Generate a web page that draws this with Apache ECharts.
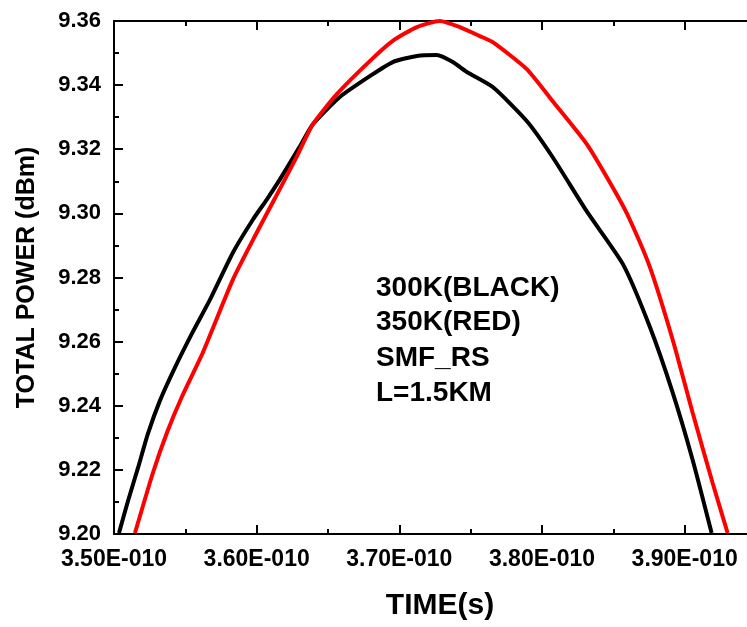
<!DOCTYPE html>
<html>
<head>
<meta charset="utf-8">
<script src="https://cdn.jsdelivr.net/npm/echarts@6/dist/echarts.min.js"></script>
<style>
html,body{margin:0;padding:0;background:#fff;}
#chart{width:747px;height:627px;}
</style>
</head>
<body>
<div id="chart"></div>
<script>
// time in units of 1E-010 s
const time300K = [3.5035,3.5098,3.5168,3.5238,3.5322,3.5427,3.5546,3.5673,3.5834,3.5974,3.6072,3.6163,3.6303,3.6394,3.6583,3.6793,3.6954,3.7123,3.7263,3.7375,3.7473,3.7655,3.7893,3.8075,3.8314,3.8568,3.8755,3.8916,3.9056,3.9189];
const power300K = [9.2003,9.2103,9.2206,9.2313,9.2416,9.2519,9.2625,9.2731,9.2878,9.2981,9.3044,9.3106,9.3209,9.3278,9.3363,9.3428,9.3472,9.3491,9.3494,9.3472,9.3441,9.3394,9.3288,9.3175,9.3006,9.2841,9.2647,9.2441,9.2231,9.2003];
const time350K = [3.5147,3.5273,3.5371,3.5476,3.5623,3.5834,3.6002,3.6128,3.6282,3.6394,3.6562,3.6793,3.6954,3.7123,3.7284,3.7424,3.7564,3.7655,3.7893,3.8075,3.8314,3.8524,3.8615,3.8755,3.8916,3.9056,3.9196,3.9301];
const power350K = [9.2003,9.2191,9.2316,9.2428,9.2566,9.2794,9.2941,9.3047,9.3178,9.3278,9.3372,9.3475,9.3538,9.3581,9.3600,9.3581,9.3553,9.3534,9.3450,9.3350,9.3216,9.3059,9.2981,9.2834,9.2606,9.2378,9.2159,9.2003];
const annotationLines = ['300K(BLACK)','350K(RED)','SMF_RS','L=1.5KM'];
const xTitle = 'TIME(s)';
const yTitle = 'TOTAL POWER (dBm)';

const FONT = '"Liberation Sans", Arial, sans-serif';
const chart = echarts.init(document.getElementById('chart'), null, {renderer:'canvas'});

function zip(xs, ys){ return xs.map((x,i)=>[x, ys[i]]); }

const axisLineStyle = {color:'#000', width:2};
const commonX = {
  type:'value', min:3.5, max:3.95, interval:0.1,
  axisLine:{show:true, onZero:false, lineStyle:axisLineStyle},
  axisTick:{show:true, inside:true, length:9, lineStyle:{color:'#000', width:2}},
  minorTick:{show:true, splitNumber:2, length:5, lineStyle:{color:'#000', width:2}},
  splitLine:{show:false}
};
const commonY = {
  type:'value', min:9.2, max:9.36, interval:0.02,
  axisLine:{show:true, onZero:false, lineStyle:axisLineStyle},
  axisTick:{show:true, inside:true, length:9, lineStyle:{color:'#000', width:2}},
  minorTick:{show:true, splitNumber:2, length:5, lineStyle:{color:'#000', width:2}},
  splitLine:{show:false}
};

const option = {
  backgroundColor:'#fff',
  animation:false,
  grid:{left:114, top:21, width:642, height:513, containLabel:false, outerBoundsMode:'none'},
  xAxis:[
    Object.assign({}, commonX, {
      position:'bottom',
      name:xTitle, nameLocation:'middle', nameGap:57,
      nameTextStyle:{fontFamily:FONT, fontWeight:'bold', fontSize:30, color:'#000', padding:[0,0,0,10]},
      axisLabel:{show:true, margin:14, fontFamily:FONT, fontWeight:'bold', fontSize:23, color:'#000',
        showMaxLabel:false,
        formatter:function(v){ return Math.abs(v*10 - Math.round(v*10)) < 1e-6 ? v.toFixed(2)+'E-010' : ''; }}
    }),
    Object.assign({}, commonX, {position:'top', axisLabel:{show:false}})
  ],
  yAxis:[
    Object.assign({}, commonY, {
      position:'left',
      name:yTitle, nameLocation:'middle', nameGap:74, nameRotate:90,
      nameTextStyle:{fontFamily:FONT, fontWeight:'bold', fontSize:25, color:'#000'},
      axisLabel:{show:true, margin:13, fontFamily:FONT, fontWeight:'bold', fontSize:22, color:'#000',
        formatter:function(v){ return v.toFixed(2); }}
    }),
    Object.assign({}, commonY, {position:'right', axisLabel:{show:false}})
  ],
  series:[
    {name:'300K', type:'line', xAxisIndex:0, yAxisIndex:0, data:zip(time300K, power300K),
      showSymbol:false, symbol:'none', smooth:0.2, lineStyle:{color:'#000', width:4}, clip:true},
    {name:'350K', type:'line', xAxisIndex:0, yAxisIndex:0, data:zip(time350K, power350K),
      showSymbol:false, symbol:'none', smooth:0.2, lineStyle:{color:'#ff0000', width:4}, clip:true}
  ],
  graphic: annotationLines.map(function(t, i){
    return {type:'text', left:376, top:[276,310,346,381][i] - 2,
      style:{text:t, fontFamily:FONT, fontWeight:'bold', fontSize:28, fill:'#000'}};
  })
};
chart.setOption(option);
</script>
</body>
</html>
